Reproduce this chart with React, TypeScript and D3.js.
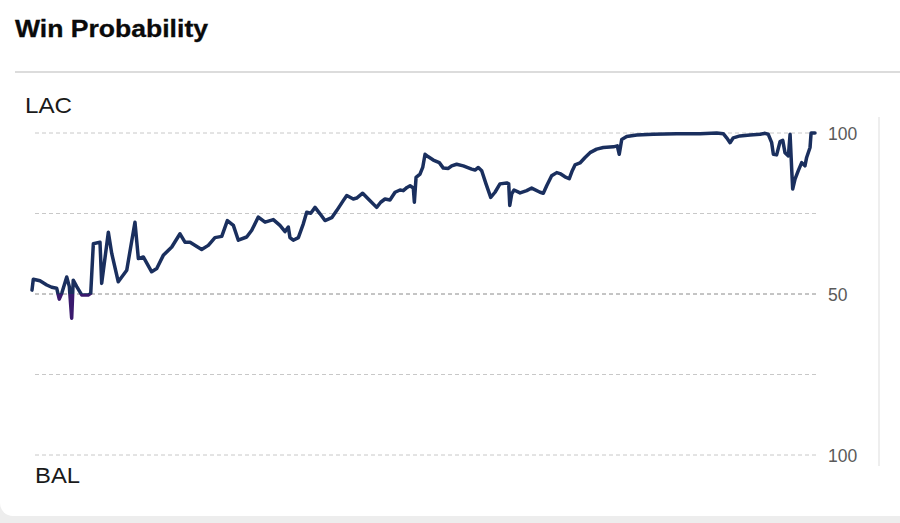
import React from 'react';
import * as d3 from 'd3';

// game clock (minutes elapsed) and LAC win probability (%)
const minutes = [
  0, 0.1, 0.61, 1.13, 1.51, 1.89, 2.09, 2.28, 2.66, 2.86, 3.04, 3.16, 3.43, 3.81, 4.31, 4.5, 4.7,
  5.21, 5.34, 5.85, 6.11, 6.61, 7.26, 7.89, 8.15, 8.53, 9.17, 9.56, 10.06, 10.71, 11.34, 11.72,
  12.11, 13.0, 13.51, 14.02, 14.54, 14.97, 15.43, 15.81, 16.45, 16.84, 17.34, 17.86, 18.49, 19.0,
  19.39, 19.64, 19.77, 20.02, 20.41, 20.79, 21.05, 21.36, 21.69, 22.07, 22.45, 22.97, 23.35, 23.85,
  24.12, 24.62, 24.88, 25.34, 25.77, 26.41, 26.72, 27.05, 27.43, 27.82, 28.2, 28.45, 28.74, 28.97,
  29.22, 29.3, 29.43, 29.73, 29.94, 30.12, 30.37, 30.75, 31.21, 31.52, 31.9, 32.16, 32.54, 33.05,
  33.69, 33.95, 34.2, 34.46, 34.79, 35.15, 35.48, 35.86, 36.38, 36.53, 36.61, 36.76, 36.94, 37.4,
  37.91, 38.29, 38.93, 39.18, 39.44, 39.82, 40.21, 40.46, 40.84, 41.17, 41.4, 41.61, 41.99, 42.38,
  42.76, 43.27, 43.78, 44.55, 44.85, 45.0, 45.19, 45.57, 46.34, 47.61, 49.4, 51.19, 52.47, 52.97,
  53.23, 53.49, 53.74, 54.25, 55.02, 55.79, 56.17, 56.42, 56.68, 56.81, 57.06, 57.32, 57.53, 57.7,
  57.96, 58.09, 58.22, 58.29, 58.47, 58.72, 58.98, 59.23, 59.36, 59.62, 59.7, 60,
];
const lacWinPct = [
  51.2, 54.6, 54.1, 52.8, 52.1, 51.8, 48.4, 50.2, 55.3, 52.3, 42.5, 54.3, 52.3, 49.7, 49.7, 50.2, 65.6,
  66.1, 53.3, 69.2, 62.6, 53.8, 57.4, 72.3, 61.0, 61.5, 56.9, 57.9, 62.0, 64.6, 68.7, 66.1,
  66.1, 63.8, 65.1, 67.5, 67.9, 72.8, 71.3, 66.7, 67.7, 69.8, 73.9, 72.3, 73.1, 71.3,
  69.4, 70.8, 67.5, 66.7, 67.5, 71.8, 75.4, 75.1, 76.9, 74.9, 72.8, 73.7, 75.9, 79.0,
  80.6, 79.5, 79.8, 81.3, 79.5, 76.9, 78.5, 79.5, 79.2, 81.6, 82.3, 82.1, 83.1, 83.6,
  82.9, 78.5, 86.2, 87.2, 89.3, 93.4, 92.6, 91.6, 90.8, 89.1, 89.0, 89.8, 90.3, 89.8,
  88.8, 88.5, 89.3, 88.3, 84.2, 80.0, 81.6, 84.2, 84.5, 84.2, 77.5, 81.1, 82.3, 81.4,
  82.1, 82.9, 81.6, 81.3, 83.6, 86.7, 87.7, 87.4, 86.4, 85.8, 88.3, 90.1, 90.7, 92.4,
  93.9, 95.0, 95.5, 95.7, 96.0, 93.4, 98.0, 98.9, 99.4, 99.6, 99.8, 99.8, 100, 99.8,
  98.5, 97.0, 98.5, 99.1, 99.4, 99.6, 99.9, 99.6, 97.0, 93.4, 93.2, 97.3, 97.7, 93.9,
  92.9, 99.6, 88.3, 82.6, 85.7, 88.3, 90.8, 89.8, 92.4, 95.5, 100, 100,
];
const gridValues = [100, 75, 50, 25, 0];
const tickValues = [100, 50, 0];
const tickLabels = ['100', '50', '100'];
const homeTeam = 'LAC';
const awayTeam = 'BAL';
const title = 'Win Probability';

const FONT = '"Liberation Sans", Arial, sans-serif';

export default function App() {
  const width = 900;
  const height = 523;

  const x = d3.scaleLinear().domain([0, 60]).range([32, 815]);
  const y = d3.scaleLinear().domain([0, 100]).range([455, 133]);

  const points: [number, number][] = minutes.map((m, i) => [m, lacWinPct[i]]);
  const line = d3
    .line<[number, number]>()
    .x(d => x(d[0]))
    .y(d => y(d[1]));
  const path = line(points) || '';
  const mid = y(50);

  return (
    <svg
      width={width}
      height={height}
      style={{ position: 'absolute', left: 0, top: 0, display: 'block' }}
    >
      <defs>
        <clipPath id="above">
          <rect x={0} y={0} width={width} height={mid} />
        </clipPath>
        <clipPath id="below">
          <rect x={0} y={mid} width={width} height={height - mid} />
        </clipPath>
      </defs>
      <rect x={0} y={0} width={width} height={height} fill="#ededed" />
      <rect x={0} y={-30} width={width + 30} height={546} rx={13} fill="#ffffff" />

      <text
        x={15}
        y={37}
        fontFamily={FONT}
        fontWeight="bold"
        fontSize={23}
        fill="#0a0a0a"
        stroke="#0a0a0a"
        strokeWidth={0.3}
        textLength={193}
        lengthAdjust="spacingAndGlyphs"
      >
        {title}
      </text>
      <line x1={15} x2={width} y1={72} y2={72} stroke="#dcdcdc" strokeWidth={2} />
      <line x1={879} x2={879} y1={117} y2={466} stroke="#e8e8e8" strokeWidth={1.5} />

      {gridValues.map(v => (
        <line
          key={v}
          x1={35}
          x2={817}
          y1={y(v)}
          y2={y(v)}
          stroke={v === 50 ? '#8a8a8a' : '#c8c8c8'}
          strokeWidth={1}
          strokeDasharray="4,3"
        />
      ))}

      {tickValues.map((v, i) => (
        <text
          key={v}
          x={828}
          y={y(v) + 1}
          dominantBaseline="central"
          fontFamily={FONT}
          fontSize={17.5}
          fill="#5a5a5a"
        >
          {tickLabels[i]}
        </text>
      ))}

      <text x={25} y={113} fontFamily={FONT} fontSize={22} fill="#1a1a1a" textLength={47} lengthAdjust="spacingAndGlyphs">
        {homeTeam}
      </text>
      <text x={35} y={483} fontFamily={FONT} fontSize={22} fill="#1a1a1a" textLength={45} lengthAdjust="spacingAndGlyphs">
        {awayTeam}
      </text>

      <path
        d={path}
        fill="none"
        stroke="#1a2f5e"
        strokeWidth={3.5}
        strokeLinejoin="round"
        strokeLinecap="round"
        clipPath="url(#above)"
      />
      <path
        d={path}
        fill="none"
        stroke="#3a1a6e"
        strokeWidth={3.5}
        strokeLinejoin="round"
        strokeLinecap="round"
        clipPath="url(#below)"
      />
    </svg>
  );
}
